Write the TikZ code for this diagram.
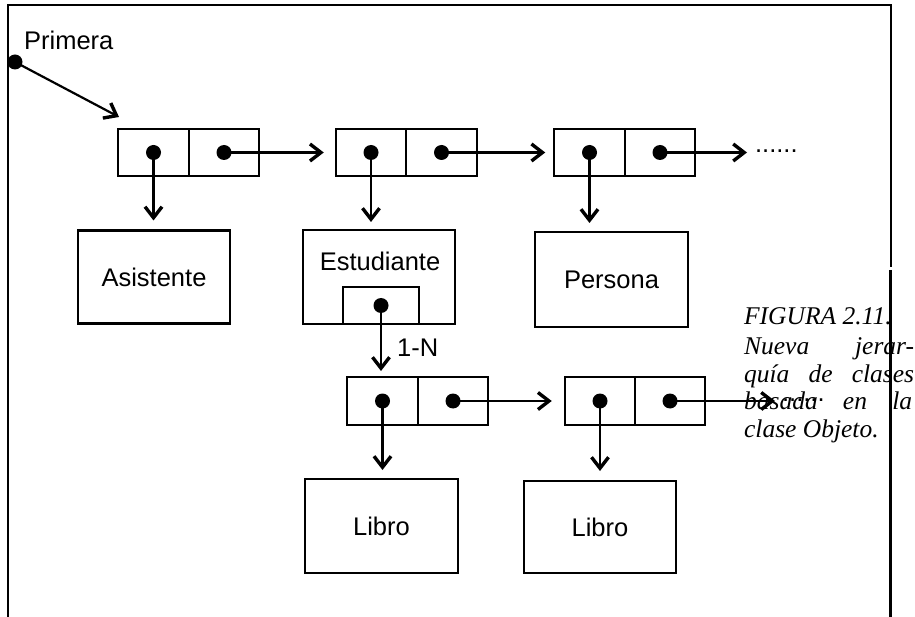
\documentclass[tikz,border=0pt]{standalone}
\usepackage{fontspec}
\setmainfont{Liberation Sans}
\newfontfamily\capfont{Liberation Serif}
\usetikzlibrary{arrows.meta}

\begin{document}
\begin{tikzpicture}[x=1pt, y=-1pt, line width=2.2pt, line join=miter,
  cell/.style={draw, minimum width=70.5pt, minimum height=47pt, inner sep=0pt, outer sep=0pt},
  objbox/.style={draw, minimum width=152pt, minimum height=93pt, inner sep=0pt, outer sep=0pt,
                 font=\fontsize{25.5}{30}\selectfont},
  slotbox/.style={draw, minimum width=76pt, minimum height=37pt, inner sep=0pt, outer sep=0pt},
  ptrdot/.style={circle, fill=black, draw=none, inner sep=0pt, minimum size=15pt},
  ptr/.style={-{Straight Barb[length=11pt, width=17pt, line width=3.4pt]}},
  lbl/.style={inner sep=0pt, font=\fontsize{25.5}{30}\selectfont},
  capline/.style={anchor=base west, inner sep=0pt, font=\capfont\itshape\fontsize{25.5}{28}\selectfont}]

\useasboundingbox (0,0) rectangle (915,617);

% caption beside the drawing
\node[capline] (cap1) at (743,325) {FIGURA 2.11.};
\node[capline] (cap2) at (743,354) {\makebox[170pt][l]{Nueva\hfill jerar-}};
\node[capline] (cap3) at (743,382) {\makebox[170pt][l]{quía\hfill de\hfill clases}};
\node[capline] (cap4) at (743,409) {\makebox[168pt][l]{basada\hfill en\hfill la}};
\node[capline] (cap5) at (743,437) {clase Objeto.};

% frame
\draw (8,620) -- (8,5) -- (891,5) -- (891,267);
\draw (890.5,270) -- (890.5,620);

% head of the list
\node[lbl, anchor=base west] (primera) at (23,50) {Primera};
\node[ptrdot] (pdot) at (15,62) {};
\coordinate (ptip) at (119,117);
\draw[ptr] (pdot.center) -- (ptip);

% top row of list cells
\node[cell] (p1a) at (153.5,152.5) {};
\node[cell] (p1b) at (224,152.5) {};
\node[cell] (p2a) at (371,152.5) {};
\node[cell] (p2b) at (441.5,152.5) {};
\node[cell] (p3a) at (589.5,152.5) {};
\node[cell] (p3b) at (660,152.5) {};

% objects referenced by the top row
\node[objbox] (asis) at (154,277) {Asistente};
\node[objbox, minimum height=94pt] (estu) at (379,277) {};
\node[lbl] (estulbl) at (380,261) {Estudiante};
\node[slotbox] (slot) at (381,305.5) {};
\node[objbox, minimum width=153pt, minimum height=95pt] (pers) at (611.5,279.5) {Persona};

% lower row of list cells
\node[cell, minimum height=48pt] (q1a) at (382.5,401) {};
\node[cell, minimum height=48pt] (q1b) at (453,401) {};
\node[cell, minimum height=48pt] (q2a) at (600,401) {};
\node[cell, minimum height=48pt] (q2b) at (670,401) {};

\node[objbox, minimum width=153pt, minimum height=94pt] (lib1) at (381.5,526) {Libro};
\node[objbox, minimum height=92pt] (lib2) at (600,527) {Libro};

% pointer dots
\foreach \n in {p1a,p1b,p2a,p2b,p3a,p3b,q1a,q1b,q2a,q2b,slot}
  \node[ptrdot] (\n-dot) at (\n.center) {};

% downward pointers
\draw[ptr, shorten >=10pt] (p1a.center) -- (p1a.center |- asis.north);
\draw[ptr, shorten >=8pt]  (p2a.center) -- (p2a.center |- estu.north);
\draw[ptr, shorten >=9pt]  (p3a.center) -- (p3a.center |- pers.north);
\draw[ptr, shorten >=6pt]  (slot.center) -- (slot.center |- q1a.north);
\draw[ptr, shorten >=9pt]  (q1a.center) -- (q1a.center |- lib1.north);
\draw[ptr, shorten >=10pt] (q2a.center) -- (q2a.center |- lib2.north);
\node[lbl, anchor=west] (card) at (396,348) {1-N};

% next pointers
\draw[ptr, shorten >=12pt] (p1b.center) -- (p2a.west);
\draw[ptr, shorten >=9pt]  (p2b.center) -- (p3a.west);
\draw[ptr, shorten >=13pt] (q1b.center) -- (q2a.west);
\coordinate (more1) at (747,152.5);
\coordinate (more2) at (775,401);
\draw[ptr] (p3b.center) -- (more1);
\draw[ptr] (q2b.center) -- (more2);
\node[lbl, anchor=base west] (dots1) at (754,153) {......};
\node[lbl, anchor=base west] (dots2) at (781,401) {......};

\end{tikzpicture}
\end{document}
